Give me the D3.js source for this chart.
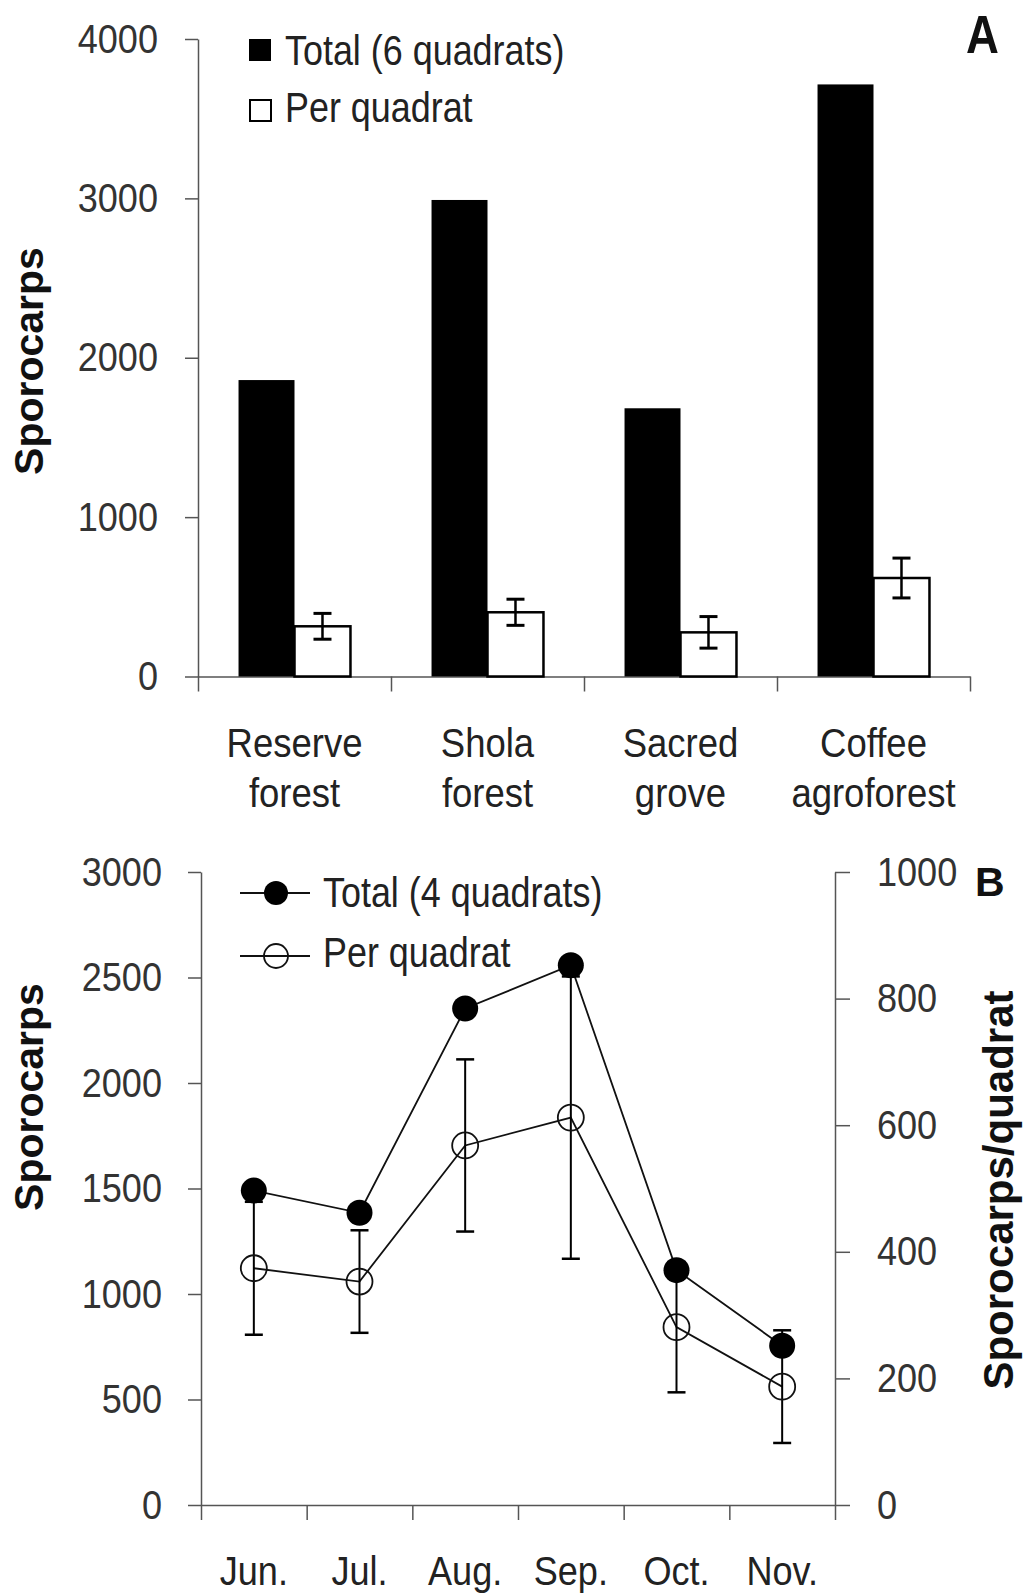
<!DOCTYPE html>
<html>
<head>
<meta charset="utf-8">
<script src="https://cdn.jsdelivr.net/npm/d3@7"></script>
<style>
body { margin: 0; background: #fff; }
text { font-family: 'Liberation Sans', Arial, sans-serif; fill: #222; }
.axis path, .axis line { stroke: #555; stroke-width: 1.5; }
.axis text { font-size: 41px; fill: #333; }
.title { font-weight: bold; font-size: 41px; fill: #111; }
</style>
</head>
<body>
<svg id="chart"></svg>
<script>
// Panel A: sporocarps per site
var sites = [["Reserve", "forest"], ["Shola", "forest"], ["Sacred", "grove"], ["Coffee", "agroforest"]];
var siteTotal = [1860, 2990, 1683, 3715];
var siteMean = [315, 403, 277, 618];
var siteErr = [81, 82, 99, 125];
var yTicksA = [0, 1000, 2000, 3000, 4000];

// Panel B: sporocarps per month
var months = ["Jun.", "Jul.", "Aug.", "Sep.", "Oct.", "Nov."];
var monthTotal = [1490, 1385, 2353, 2558, 1113, 755];
var monthMean = [374, 353, 568, 612, 281, 187];
var monthErr = [105, 81, 136, 223, 103, 89];
var yTicksB = [0, 500, 1000, 1500, 2000, 2500, 3000];
var yTicksB2 = [0, 200, 400, 600, 800, 1000];

const width = 1024, height = 1593;
const svg = d3.select("#chart").attr("width", width).attr("height", height);

// the original uses a condensed face; squeeze text horizontally
function narrow(sel, k) {
    k = k || 0.88;
    sel.each(function () {
        const t = d3.select(this);
        const x = +t.attr("x") || 0, y = +t.attr("y") || 0;
        t.attr("x", null).attr("y", null)
            .attr("transform", "translate(" + x + "," + y + ") scale(" + k + ",1)");
    });
}

// ---------- Panel A ----------
const xA = d3.scaleBand().domain(d3.range(sites.length)).range([198, 970]);
const bw = xA.bandwidth();
const xA1 = d3.scaleBand().domain(["total", "mean"]).range([0.21 * bw, 0.79 * bw]);
const xAt = d3.scaleLinear().domain([0, sites.length]).range([198, 970]);
const yA = d3.scaleLinear().domain([0, 4000]).range([676.5, 39]);

svg.append("g").attr("class", "axis")
    .attr("transform", "translate(198,0)")
    .call(d3.axisLeft(yA).tickValues(yTicksA).tickSize(13).tickSizeOuter(0).tickPadding(27).tickFormat(d3.format("d")))
    .selectAll("text").call(narrow, 0.88);
svg.append("g").attr("class", "axis")
    .attr("transform", "translate(0,676.5)")
    .call(d3.axisBottom(xAt).ticks(sites.length).tickSize(15).tickSizeOuter(0).tickFormat(""));

const gA = svg.append("g");
gA.selectAll("rect.total").data(siteTotal).join("rect")
    .attr("class", "total")
    .attr("x", (d, i) => xA(i) + xA1("total"))
    .attr("width", xA1.bandwidth())
    .attr("y", d => yA(d))
    .attr("height", d => yA(0) - yA(d))
    .attr("fill", "#000");
gA.selectAll("rect.mean").data(siteMean).join("rect")
    .attr("class", "mean")
    .attr("x", (d, i) => xA(i) + xA1("mean"))
    .attr("width", xA1.bandwidth())
    .attr("y", d => yA(d))
    .attr("height", d => yA(0) - yA(d))
    .attr("fill", "#fff")
    .attr("stroke", "#000")
    .attr("stroke-width", 2.5);

const errA = gA.selectAll("g.err").data(siteMean).join("g")
    .attr("class", "err")
    .attr("transform", (d, i) => "translate(" + (xA(i) + xA1("mean") + xA1.bandwidth() / 2) + ",0)");
errA.append("line")
    .attr("y1", (d, i) => yA(d + siteErr[i]))
    .attr("y2", (d, i) => yA(d - siteErr[i]))
    .attr("stroke", "#000").attr("stroke-width", 2.5);
errA.append("line")
    .attr("x1", -9).attr("x2", 9)
    .attr("y1", (d, i) => yA(d + siteErr[i])).attr("y2", (d, i) => yA(d + siteErr[i]))
    .attr("stroke", "#000").attr("stroke-width", 3);
errA.append("line")
    .attr("x1", -9).attr("x2", 9)
    .attr("y1", (d, i) => yA(d - siteErr[i])).attr("y2", (d, i) => yA(d - siteErr[i]))
    .attr("stroke", "#000").attr("stroke-width", 3);

const catG = svg.append("g");
catG.selectAll("text.l1").data(sites).join("text")
    .attr("class", "l1").attr("text-anchor", "middle").attr("font-size", 41)
    .attr("x", (d, i) => xA(i) + bw / 2).attr("y", 757)
    .text(d => d[0]).call(narrow, 0.89);
catG.selectAll("text.l2").data(sites).join("text")
    .attr("class", "l2").attr("text-anchor", "middle").attr("font-size", 41)
    .attr("x", (d, i) => xA(i) + bw / 2).attr("y", 807)
    .text(d => d[1]).call(narrow, 0.89);

// legend A
svg.append("rect").attr("x", 249).attr("y", 39).attr("width", 22).attr("height", 22).attr("fill", "#000");
svg.append("rect").attr("x", 250).attr("y", 100).attr("width", 21).attr("height", 21)
    .attr("fill", "#fff").attr("stroke", "#000").attr("stroke-width", 2);
svg.append("text").attr("x", 285).attr("y", 65).attr("font-size", 42).text("Total (6 quadrats)").call(narrow, 0.855);
svg.append("text").attr("x", 285).attr("y", 122).attr("font-size", 42).text("Per quadrat").call(narrow, 0.855);

svg.append("text").attr("x", 966).attr("y", 53)
    .attr("font-size", 53).attr("font-weight", "bold").style("fill", "#111").text("A").call(narrow, 0.86);

svg.append("text").attr("class", "title")
    .attr("transform", "translate(43,361) rotate(-90)")
    .attr("text-anchor", "middle").text("Sporocarps");

// ---------- Panel B ----------
const xB = d3.scaleBand().domain(months).range([201, 835]);
const xBt = d3.scaleLinear().domain([0, months.length]).range([201, 835]);
const yB = d3.scaleLinear().domain([0, 3000]).range([1505, 872]);
const yB2 = d3.scaleLinear().domain([0, 1000]).range([1505, 872]);
const cx = m => xB(m) + xB.bandwidth() / 2;

svg.append("g").attr("class", "axis")
    .attr("transform", "translate(201,0)")
    .call(d3.axisLeft(yB).tickValues(yTicksB).tickSize(13).tickSizeOuter(0).tickPadding(26).tickFormat(d3.format("d")))
    .selectAll("text").call(narrow, 0.88);
svg.append("g").attr("class", "axis")
    .attr("transform", "translate(835,0)")
    .call(d3.axisRight(yB2).tickValues(yTicksB2).tickSize(15).tickSizeOuter(0).tickPadding(27).tickFormat(d3.format("d")))
    .selectAll("text").call(narrow, 0.88);
svg.append("g").attr("class", "axis")
    .attr("transform", "translate(0,1505)")
    .call(d3.axisBottom(xBt).ticks(months.length).tickSize(15).tickSizeOuter(0).tickFormat(""));

svg.append("g").selectAll("text").data(months).join("text")
    .attr("x", d => cx(d)).attr("y", 1585)
    .attr("text-anchor", "middle").attr("font-size", 41)
    .text(d => d).call(narrow, 0.88);

const gB = svg.append("g");
gB.append("path").datum(monthTotal)
    .attr("fill", "none").attr("stroke", "#111").attr("stroke-width", 1.8)
    .attr("d", d3.line().x((d, i) => cx(months[i])).y(d => yB(d)));
gB.append("path").datum(monthMean)
    .attr("fill", "none").attr("stroke", "#111").attr("stroke-width", 1.8)
    .attr("d", d3.line().x((d, i) => cx(months[i])).y(d => yB2(d)));

const errB = gB.selectAll("g.err").data(monthMean).join("g")
    .attr("class", "err")
    .attr("transform", (d, i) => "translate(" + cx(months[i]) + ",0)");
errB.append("line")
    .attr("y1", (d, i) => yB2(d + monthErr[i])).attr("y2", (d, i) => yB2(d - monthErr[i]))
    .attr("stroke", "#000").attr("stroke-width", 2);
errB.append("line")
    .attr("x1", -9).attr("x2", 9)
    .attr("y1", (d, i) => yB2(d + monthErr[i])).attr("y2", (d, i) => yB2(d + monthErr[i]))
    .attr("stroke", "#000").attr("stroke-width", 2.5);
errB.append("line")
    .attr("x1", -9).attr("x2", 9)
    .attr("y1", (d, i) => yB2(d - monthErr[i])).attr("y2", (d, i) => yB2(d - monthErr[i]))
    .attr("stroke", "#000").attr("stroke-width", 2.5);

gB.selectAll("circle.mean").data(monthMean).join("circle")
    .attr("class", "mean")
    .attr("cx", (d, i) => cx(months[i])).attr("cy", d => yB2(d)).attr("r", 13)
    .attr("fill", "none").attr("stroke", "#111").attr("stroke-width", 1.8);
gB.selectAll("circle.total").data(monthTotal).join("circle")
    .attr("class", "total")
    .attr("cx", (d, i) => cx(months[i])).attr("cy", d => yB(d)).attr("r", 13)
    .attr("fill", "#000");

// legend B
const legB = svg.append("g");
legB.append("line").attr("x1", 240).attr("x2", 310).attr("y1", 893).attr("y2", 893).attr("stroke", "#111").attr("stroke-width", 1.8);
legB.append("circle").attr("cx", 276).attr("cy", 893).attr("r", 12).attr("fill", "#000");
legB.append("line").attr("x1", 240).attr("x2", 310).attr("y1", 956).attr("y2", 956).attr("stroke", "#111").attr("stroke-width", 1.8);
legB.append("circle").attr("cx", 276).attr("cy", 956).attr("r", 12).attr("fill", "none").attr("stroke", "#111").attr("stroke-width", 1.8);
legB.append("text").attr("x", 323).attr("y", 907).attr("font-size", 42).text("Total (4 quadrats)").call(narrow, 0.855);
legB.append("text").attr("x", 323).attr("y", 967).attr("font-size", 42).text("Per quadrat").call(narrow, 0.855);

svg.append("text").attr("x", 975).attr("y", 896)
    .attr("font-size", 41).attr("font-weight", "bold").style("fill", "#111").text("B");

svg.append("text").attr("class", "title")
    .attr("transform", "translate(43,1097) rotate(-90)")
    .attr("text-anchor", "middle").text("Sporocarps");
svg.append("text").attr("class", "title")
    .attr("transform", "translate(1013,1190) rotate(-90)")
    .attr("text-anchor", "middle").style("font-size", "42px").text("Sporocarps/quadrat");
</script>
</body>
</html>
